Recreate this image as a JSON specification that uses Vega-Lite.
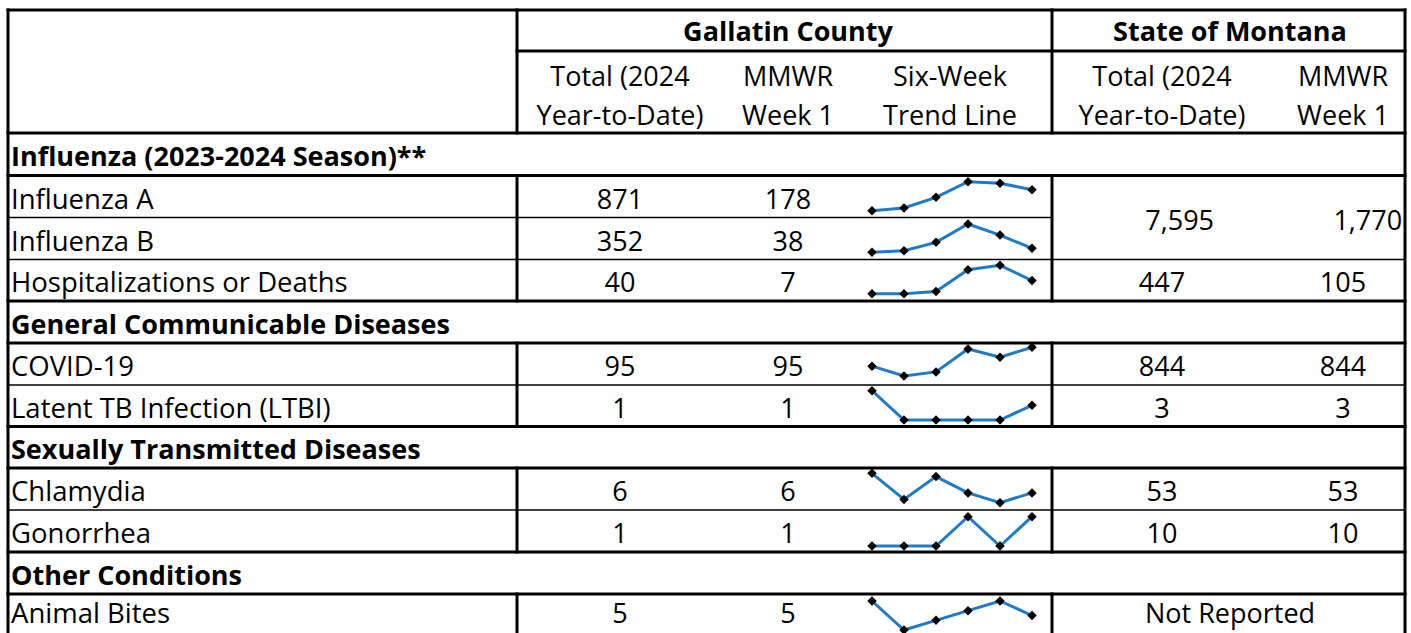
{
  "$schema": "https://vega.github.io/schema/vega-lite/v6.json",
  "width": 1411,
  "height": 633,
  "padding": 0,
  "autosize": {"type": "none"},
  "background": "white",
  "config": {"view": {"stroke": null}},
  "datasets": {
    "cells": [
      {"kind": "group", "r": 0.5, "c": 2.5, "label": "Gallatin County"},
      {"kind": "group", "r": 0.5, "c": 5, "label": "State of Montana"},
      {"kind": "sub", "r": 1.5, "c": 1.5, "label": ["Total (2024", "Year-to-Date)"]},
      {"kind": "sub", "r": 1.5, "c": 2.5, "label": ["MMWR", "Week 1"]},
      {"kind": "sub", "r": 1.5, "c": 3.5, "label": ["Six-Week", "Trend Line"]},
      {"kind": "sub", "r": 1.5, "c": 4.5, "label": ["Total (2024", "Year-to-Date)"]},
      {"kind": "sub", "r": 1.5, "c": 5.5, "label": ["MMWR", "Week 1"]},
      {"kind": "section", "r": 2.5, "c": 0, "label": "Influenza (2023-2024 Season)**"},
      {"kind": "item", "r": 3.5, "c": 0, "label": "Influenza A"},
      {"kind": "value", "r": 3.5, "c": 1.5, "label": "871"},
      {"kind": "value", "r": 3.5, "c": 2.5, "label": "178"},
      {"kind": "item", "r": 4.5, "c": 0, "label": "Influenza B"},
      {"kind": "value", "r": 4.5, "c": 1.5, "label": "352"},
      {"kind": "value", "r": 4.5, "c": 2.5, "label": "38"},
      {"kind": "value", "r": 4, "c": 4.63, "label": "7,595"},
      {"kind": "value", "r": 4, "c": 5.7, "label": "1,770"},
      {"kind": "item", "r": 5.5, "c": 0, "label": "Hospitalizations or Deaths"},
      {"kind": "value", "r": 5.5, "c": 1.5, "label": "40"},
      {"kind": "value", "r": 5.5, "c": 2.5, "label": "7"},
      {"kind": "value", "r": 5.5, "c": 4.5, "label": "447"},
      {"kind": "value", "r": 5.5, "c": 5.5, "label": "105"},
      {"kind": "section", "r": 6.5, "c": 0, "label": "General Communicable Diseases"},
      {"kind": "item", "r": 7.5, "c": 0, "label": "COVID-19"},
      {"kind": "value", "r": 7.5, "c": 1.5, "label": "95"},
      {"kind": "value", "r": 7.5, "c": 2.5, "label": "95"},
      {"kind": "value", "r": 7.5, "c": 4.5, "label": "844"},
      {"kind": "value", "r": 7.5, "c": 5.5, "label": "844"},
      {"kind": "item", "r": 8.5, "c": 0, "label": "Latent TB Infection (LTBI)"},
      {"kind": "value", "r": 8.5, "c": 1.5, "label": "1"},
      {"kind": "value", "r": 8.5, "c": 2.5, "label": "1"},
      {"kind": "value", "r": 8.5, "c": 4.5, "label": "3"},
      {"kind": "value", "r": 8.5, "c": 5.5, "label": "3"},
      {"kind": "section", "r": 9.5, "c": 0, "label": "Sexually Transmitted Diseases"},
      {"kind": "item", "r": 10.5, "c": 0, "label": "Chlamydia"},
      {"kind": "value", "r": 10.5, "c": 1.5, "label": "6"},
      {"kind": "value", "r": 10.5, "c": 2.5, "label": "6"},
      {"kind": "value", "r": 10.5, "c": 4.5, "label": "53"},
      {"kind": "value", "r": 10.5, "c": 5.5, "label": "53"},
      {"kind": "item", "r": 11.5, "c": 0, "label": "Gonorrhea"},
      {"kind": "value", "r": 11.5, "c": 1.5, "label": "1"},
      {"kind": "value", "r": 11.5, "c": 2.5, "label": "1"},
      {"kind": "value", "r": 11.5, "c": 4.5, "label": "10"},
      {"kind": "value", "r": 11.5, "c": 5.5, "label": "10"},
      {"kind": "section", "r": 12.5, "c": 0, "label": "Other Conditions"},
      {"kind": "item", "r": 13.4, "c": 0, "label": "Animal Bites"},
      {"kind": "value", "r": 13.4, "c": 1.5, "label": "5"},
      {"kind": "value", "r": 13.4, "c": 2.5, "label": "5"},
      {"kind": "value", "r": 13.4, "c": 5, "label": "Not Reported"}
    ],
    "hlines": [
      {"r": 0, "c1": 0, "c2": 6, "w": "thick"},
      {"r": 1, "c1": 1, "c2": 6, "w": "thick"},
      {"r": 2, "c1": 0, "c2": 6, "w": "thick"},
      {"r": 3, "c1": 0, "c2": 6, "w": "thick"},
      {"r": 4, "c1": 0, "c2": 4, "w": "thin"},
      {"r": 5, "c1": 0, "c2": 6, "w": "thin"},
      {"r": 6, "c1": 0, "c2": 6, "w": "thick"},
      {"r": 7, "c1": 0, "c2": 6, "w": "thick"},
      {"r": 8, "c1": 0, "c2": 6, "w": "thin"},
      {"r": 9, "c1": 0, "c2": 6, "w": "thick"},
      {"r": 10, "c1": 0, "c2": 6, "w": "thick"},
      {"r": 11, "c1": 0, "c2": 6, "w": "thin"},
      {"r": 12, "c1": 0, "c2": 6, "w": "thick"},
      {"r": 13, "c1": 0, "c2": 6, "w": "thick"}
    ],
    "vlines": [
      {"c": 0, "r1": 0, "r2": 14, "w": "thick"},
      {"c": 6, "r1": 0, "r2": 14, "w": "thick"},
      {"c": 1, "r1": 0, "r2": 2, "w": "thick"},
      {"c": 1, "r1": 3, "r2": 6, "w": "thick"},
      {"c": 1, "r1": 7, "r2": 9, "w": "thick"},
      {"c": 1, "r1": 10, "r2": 12, "w": "thick"},
      {"c": 1, "r1": 13, "r2": 14, "w": "thick"},
      {"c": 4, "r1": 0, "r2": 2, "w": "thick"},
      {"c": 4, "r1": 3, "r2": 6, "w": "thick"},
      {"c": 4, "r1": 7, "r2": 9, "w": "thick"},
      {"c": 4, "r1": 10, "r2": 12, "w": "thick"},
      {"c": 4, "r1": 13, "r2": 14, "w": "thick"}
    ],
    "trend": [
      {"row": "Influenza A", "seq": 1, "mmwr": "2023-W48", "count": 60},
      {"row": "Influenza A", "seq": 2, "mmwr": "2023-W49", "count": 75},
      {"row": "Influenza A", "seq": 3, "mmwr": "2023-W50", "count": 135},
      {"row": "Influenza A", "seq": 4, "mmwr": "2023-W51", "count": 223},
      {"row": "Influenza A", "seq": 5, "mmwr": "2023-W52", "count": 214},
      {"row": "Influenza A", "seq": 6, "mmwr": "2024-W01", "count": 178},
      {"row": "Influenza B", "seq": 1, "mmwr": "2023-W48", "count": 20},
      {"row": "Influenza B", "seq": 2, "mmwr": "2023-W49", "count": 27},
      {"row": "Influenza B", "seq": 3, "mmwr": "2023-W50", "count": 65},
      {"row": "Influenza B", "seq": 4, "mmwr": "2023-W51", "count": 148},
      {"row": "Influenza B", "seq": 5, "mmwr": "2023-W52", "count": 98},
      {"row": "Influenza B", "seq": 6, "mmwr": "2024-W01", "count": 38},
      {"row": "Hospitalizations or Deaths", "seq": 1, "mmwr": "2023-W48", "count": 1},
      {"row": "Hospitalizations or Deaths", "seq": 2, "mmwr": "2023-W49", "count": 1},
      {"row": "Hospitalizations or Deaths", "seq": 3, "mmwr": "2023-W50", "count": 2},
      {"row": "Hospitalizations or Deaths", "seq": 4, "mmwr": "2023-W51", "count": 12},
      {"row": "Hospitalizations or Deaths", "seq": 5, "mmwr": "2023-W52", "count": 14},
      {"row": "Hospitalizations or Deaths", "seq": 6, "mmwr": "2024-W01", "count": 7},
      {"row": "COVID-19", "seq": 1, "mmwr": "2023-W48", "count": 72},
      {"row": "COVID-19", "seq": 2, "mmwr": "2023-W49", "count": 60},
      {"row": "COVID-19", "seq": 3, "mmwr": "2023-W50", "count": 65},
      {"row": "COVID-19", "seq": 4, "mmwr": "2023-W51", "count": 93},
      {"row": "COVID-19", "seq": 5, "mmwr": "2023-W52", "count": 83},
      {"row": "COVID-19", "seq": 6, "mmwr": "2024-W01", "count": 95},
      {"row": "Latent TB Infection (LTBI)", "seq": 1, "mmwr": "2023-W48", "count": 2},
      {"row": "Latent TB Infection (LTBI)", "seq": 2, "mmwr": "2023-W49", "count": 0},
      {"row": "Latent TB Infection (LTBI)", "seq": 3, "mmwr": "2023-W50", "count": 0},
      {"row": "Latent TB Infection (LTBI)", "seq": 4, "mmwr": "2023-W51", "count": 0},
      {"row": "Latent TB Infection (LTBI)", "seq": 5, "mmwr": "2023-W52", "count": 0},
      {"row": "Latent TB Infection (LTBI)", "seq": 6, "mmwr": "2024-W01", "count": 1},
      {"row": "Chlamydia", "seq": 1, "mmwr": "2023-W48", "count": 12},
      {"row": "Chlamydia", "seq": 2, "mmwr": "2023-W49", "count": 4},
      {"row": "Chlamydia", "seq": 3, "mmwr": "2023-W50", "count": 11},
      {"row": "Chlamydia", "seq": 4, "mmwr": "2023-W51", "count": 6},
      {"row": "Chlamydia", "seq": 5, "mmwr": "2023-W52", "count": 3},
      {"row": "Chlamydia", "seq": 6, "mmwr": "2024-W01", "count": 6},
      {"row": "Gonorrhea", "seq": 1, "mmwr": "2023-W48", "count": 0},
      {"row": "Gonorrhea", "seq": 2, "mmwr": "2023-W49", "count": 0},
      {"row": "Gonorrhea", "seq": 3, "mmwr": "2023-W50", "count": 0},
      {"row": "Gonorrhea", "seq": 4, "mmwr": "2023-W51", "count": 1},
      {"row": "Gonorrhea", "seq": 5, "mmwr": "2023-W52", "count": 0},
      {"row": "Gonorrhea", "seq": 6, "mmwr": "2024-W01", "count": 1},
      {"row": "Animal Bites", "seq": 1, "mmwr": "2023-W48", "count": 8},
      {"row": "Animal Bites", "seq": 2, "mmwr": "2023-W49", "count": 2},
      {"row": "Animal Bites", "seq": 3, "mmwr": "2023-W50", "count": 4},
      {"row": "Animal Bites", "seq": 4, "mmwr": "2023-W51", "count": 6},
      {"row": "Animal Bites", "seq": 5, "mmwr": "2023-W52", "count": 8},
      {"row": "Animal Bites", "seq": 6, "mmwr": "2024-W01", "count": 5}
    ]
  },
  "resolve": {"scale": {"x": "independent", "y": "independent"}},
  "layer": [
    {
      "layer": [
        {
          "data": {"name": "hlines"},
          "mark": {"type": "rule", "color": "black", "strokeCap": "square"},
          "encoding": {
            "y": {"field": "r", "type": "quantitative", "axis": null, "scale": {"type": "linear", "domain": [0, 1, 2, 3, 4, 5, 6, 7, 8, 9, 10, 11, 12, 13, 14], "range": [10, 51, 133, 175.5, 217.5, 259.5, 301, 343, 385, 426.5, 468, 510, 552, 594, 636], "nice": false, "zero": false}},
            "x": {"field": "c1", "type": "quantitative", "axis": null, "scale": {"type": "linear", "domain": [0, 1, 1.5, 2.5, 3.5, 4, 4.5, 5, 5.5, 6], "range": [8, 517, 620, 788, 950, 1052, 1162, 1230, 1343, 1405], "nice": false, "zero": false}},
            "x2": {"field": "c2"},
            "strokeWidth": {"field": "w", "type": "nominal", "legend": null, "scale": {"domain": ["thick", "thin"], "range": [3, 1.5]}}
          }
        },
        {
          "data": {"name": "vlines"},
          "mark": {"type": "rule", "color": "black", "strokeCap": "square"},
          "encoding": {
            "x": {"field": "c", "type": "quantitative", "axis": null, "scale": {"type": "linear", "domain": [0, 1, 1.5, 2.5, 3.5, 4, 4.5, 5, 5.5, 6], "range": [8, 517, 620, 788, 950, 1052, 1162, 1230, 1343, 1405], "nice": false, "zero": false}},
            "y": {"field": "r1", "type": "quantitative", "axis": null, "scale": {"type": "linear", "domain": [0, 1, 2, 3, 4, 5, 6, 7, 8, 9, 10, 11, 12, 13, 14], "range": [10, 51, 133, 175.5, 217.5, 259.5, 301, 343, 385, 426.5, 468, 510, 552, 594, 636], "nice": false, "zero": false}},
            "y2": {"field": "r2"},
            "strokeWidth": {"field": "w", "type": "nominal", "legend": null, "scale": {"domain": ["thick", "thin"], "range": [3, 1.5]}}
          }
        },
        {
          "data": {"name": "cells"},
          "transform": [{"filter": {"field": "kind", "equal": "value"}}],
          "mark": {"type": "text", "font": "Open Sans", "fontSize": 27, "align": "center", "baseline": "middle", "dy": 4, "color": "black"},
          "encoding": {
            "x": {"field": "c", "type": "quantitative", "axis": null, "scale": {"type": "linear", "domain": [0, 1, 1.5, 2.5, 3.5, 4, 4.5, 5, 5.5, 6], "range": [8, 517, 620, 788, 950, 1052, 1162, 1230, 1343, 1405], "nice": false, "zero": false}},
            "y": {"field": "r", "type": "quantitative", "axis": null, "scale": {"type": "linear", "domain": [0, 1, 2, 3, 4, 5, 6, 7, 8, 9, 10, 11, 12, 13, 14], "range": [10, 51, 133, 175.5, 217.5, 259.5, 301, 343, 385, 426.5, 468, 510, 552, 594, 636], "nice": false, "zero": false}},
            "text": {"field": "label", "type": "nominal"}
          }
        },
        {
          "data": {"name": "cells"},
          "transform": [{"filter": {"field": "kind", "equal": "sub"}}],
          "mark": {"type": "text", "font": "Open Sans", "fontSize": 27, "align": "center", "baseline": "middle", "dy": -14, "lineHeight": 39, "color": "black"},
          "encoding": {
            "x": {"field": "c", "type": "quantitative", "axis": null, "scale": {"type": "linear", "domain": [0, 1, 1.5, 2.5, 3.5, 4, 4.5, 5, 5.5, 6], "range": [8, 517, 620, 788, 950, 1052, 1162, 1230, 1343, 1405], "nice": false, "zero": false}},
            "y": {"field": "r", "type": "quantitative", "axis": null, "scale": {"type": "linear", "domain": [0, 1, 2, 3, 4, 5, 6, 7, 8, 9, 10, 11, 12, 13, 14], "range": [10, 51, 133, 175.5, 217.5, 259.5, 301, 343, 385, 426.5, 468, 510, 552, 594, 636], "nice": false, "zero": false}},
            "text": {"field": "label", "type": "nominal"}
          }
        },
        {
          "data": {"name": "cells"},
          "transform": [{"filter": {"field": "kind", "equal": "group"}}],
          "mark": {"type": "text", "font": "Open Sans", "fontSize": 27, "fontWeight": "bold", "align": "center", "baseline": "middle", "dy": 2, "color": "black"},
          "encoding": {
            "x": {"field": "c", "type": "quantitative", "axis": null, "scale": {"type": "linear", "domain": [0, 1, 1.5, 2.5, 3.5, 4, 4.5, 5, 5.5, 6], "range": [8, 517, 620, 788, 950, 1052, 1162, 1230, 1343, 1405], "nice": false, "zero": false}},
            "y": {"field": "r", "type": "quantitative", "axis": null, "scale": {"type": "linear", "domain": [0, 1, 2, 3, 4, 5, 6, 7, 8, 9, 10, 11, 12, 13, 14], "range": [10, 51, 133, 175.5, 217.5, 259.5, 301, 343, 385, 426.5, 468, 510, 552, 594, 636], "nice": false, "zero": false}},
            "text": {"field": "label", "type": "nominal"}
          }
        },
        {
          "data": {"name": "cells"},
          "transform": [{"filter": {"field": "kind", "equal": "item"}}],
          "mark": {"type": "text", "font": "Open Sans", "fontSize": 27.5, "align": "left", "baseline": "middle", "dx": 3, "dy": 4, "color": "black"},
          "encoding": {
            "x": {"field": "c", "type": "quantitative", "axis": null, "scale": {"type": "linear", "domain": [0, 1, 1.5, 2.5, 3.5, 4, 4.5, 5, 5.5, 6], "range": [8, 517, 620, 788, 950, 1052, 1162, 1230, 1343, 1405], "nice": false, "zero": false}},
            "y": {"field": "r", "type": "quantitative", "axis": null, "scale": {"type": "linear", "domain": [0, 1, 2, 3, 4, 5, 6, 7, 8, 9, 10, 11, 12, 13, 14], "range": [10, 51, 133, 175.5, 217.5, 259.5, 301, 343, 385, 426.5, 468, 510, 552, 594, 636], "nice": false, "zero": false}},
            "text": {"field": "label", "type": "nominal"}
          }
        },
        {
          "data": {"name": "cells"},
          "transform": [{"filter": {"field": "kind", "equal": "section"}}],
          "mark": {"type": "text", "font": "Open Sans", "fontSize": 27, "fontWeight": "bold", "align": "left", "baseline": "middle", "dx": 3, "dy": 4, "color": "black"},
          "encoding": {
            "x": {"field": "c", "type": "quantitative", "axis": null, "scale": {"type": "linear", "domain": [0, 1, 1.5, 2.5, 3.5, 4, 4.5, 5, 5.5, 6], "range": [8, 517, 620, 788, 950, 1052, 1162, 1230, 1343, 1405], "nice": false, "zero": false}},
            "y": {"field": "r", "type": "quantitative", "axis": null, "scale": {"type": "linear", "domain": [0, 1, 2, 3, 4, 5, 6, 7, 8, 9, 10, 11, 12, 13, 14], "range": [10, 51, 133, 175.5, 217.5, 259.5, 301, 343, 385, 426.5, 468, 510, 552, 594, 636], "nice": false, "zero": false}},
            "text": {"field": "label", "type": "nominal"}
          }
        }
      ]
    },
    {
      "data": {"name": "trend"},
      "transform": [{"filter": {"field": "row", "equal": "Influenza A"}}],
      "mark": {"type": "line", "color": "#1f7bc8", "strokeWidth": 3, "point": {"shape": "diamond", "filled": true, "color": "black", "size": 90}},
      "encoding": {
        "x": {"field": "seq", "type": "quantitative", "axis": null, "scale": {"domain": [1, 6], "range": [872, 1032], "nice": false, "zero": false}},
        "y": {"field": "count", "type": "quantitative", "axis": null, "scale": {"range": [210.7, 181.7], "nice": false, "zero": false}}
      }
    },
    {
      "data": {"name": "trend"},
      "transform": [{"filter": {"field": "row", "equal": "Influenza B"}}],
      "mark": {"type": "line", "color": "#1f7bc8", "strokeWidth": 3, "point": {"shape": "diamond", "filled": true, "color": "black", "size": 90}},
      "encoding": {
        "x": {"field": "seq", "type": "quantitative", "axis": null, "scale": {"domain": [1, 6], "range": [872, 1032], "nice": false, "zero": false}},
        "y": {"field": "count", "type": "quantitative", "axis": null, "scale": {"range": [252.3, 224], "nice": false, "zero": false}}
      }
    },
    {
      "data": {"name": "trend"},
      "transform": [{"filter": {"field": "row", "equal": "Hospitalizations or Deaths"}}],
      "mark": {"type": "line", "color": "#1f7bc8", "strokeWidth": 3, "point": {"shape": "diamond", "filled": true, "color": "black", "size": 90}},
      "encoding": {
        "x": {"field": "seq", "type": "quantitative", "axis": null, "scale": {"domain": [1, 6], "range": [872, 1032], "nice": false, "zero": false}},
        "y": {"field": "count", "type": "quantitative", "axis": null, "scale": {"range": [293.7, 265.3], "nice": false, "zero": false}}
      }
    },
    {
      "data": {"name": "trend"},
      "transform": [{"filter": {"field": "row", "equal": "COVID-19"}}],
      "mark": {"type": "line", "color": "#1f7bc8", "strokeWidth": 3, "point": {"shape": "diamond", "filled": true, "color": "black", "size": 90}},
      "encoding": {
        "x": {"field": "seq", "type": "quantitative", "axis": null, "scale": {"domain": [1, 6], "range": [872, 1032], "nice": false, "zero": false}},
        "y": {"field": "count", "type": "quantitative", "axis": null, "scale": {"range": [376, 347.3], "nice": false, "zero": false}}
      }
    },
    {
      "data": {"name": "trend"},
      "transform": [{"filter": {"field": "row", "equal": "Latent TB Infection (LTBI)"}}],
      "mark": {"type": "line", "color": "#1f7bc8", "strokeWidth": 3, "point": {"shape": "diamond", "filled": true, "color": "black", "size": 90}},
      "encoding": {
        "x": {"field": "seq", "type": "quantitative", "axis": null, "scale": {"domain": [1, 6], "range": [872, 1032], "nice": false, "zero": false}},
        "y": {"field": "count", "type": "quantitative", "axis": null, "scale": {"range": [420, 390.7], "nice": false, "zero": false}}
      }
    },
    {
      "data": {"name": "trend"},
      "transform": [{"filter": {"field": "row", "equal": "Chlamydia"}}],
      "mark": {"type": "line", "color": "#1f7bc8", "strokeWidth": 3, "point": {"shape": "diamond", "filled": true, "color": "black", "size": 90}},
      "encoding": {
        "x": {"field": "seq", "type": "quantitative", "axis": null, "scale": {"domain": [1, 6], "range": [872, 1032], "nice": false, "zero": false}},
        "y": {"field": "count", "type": "quantitative", "axis": null, "scale": {"range": [502.7, 473.3], "nice": false, "zero": false}}
      }
    },
    {
      "data": {"name": "trend"},
      "transform": [{"filter": {"field": "row", "equal": "Gonorrhea"}}],
      "mark": {"type": "line", "color": "#1f7bc8", "strokeWidth": 3, "point": {"shape": "diamond", "filled": true, "color": "black", "size": 90}},
      "encoding": {
        "x": {"field": "seq", "type": "quantitative", "axis": null, "scale": {"domain": [1, 6], "range": [872, 1032], "nice": false, "zero": false}},
        "y": {"field": "count", "type": "quantitative", "axis": null, "scale": {"range": [546, 516.7], "nice": false, "zero": false}}
      }
    },
    {
      "data": {"name": "trend"},
      "transform": [{"filter": {"field": "row", "equal": "Animal Bites"}}],
      "mark": {"type": "line", "color": "#1f7bc8", "strokeWidth": 3, "point": {"shape": "diamond", "filled": true, "color": "black", "size": 90}},
      "encoding": {
        "x": {"field": "seq", "type": "quantitative", "axis": null, "scale": {"domain": [1, 6], "range": [872, 1032], "nice": false, "zero": false}},
        "y": {"field": "count", "type": "quantitative", "axis": null, "scale": {"range": [630, 601], "nice": false, "zero": false}}
      }
    }
  ]
}
